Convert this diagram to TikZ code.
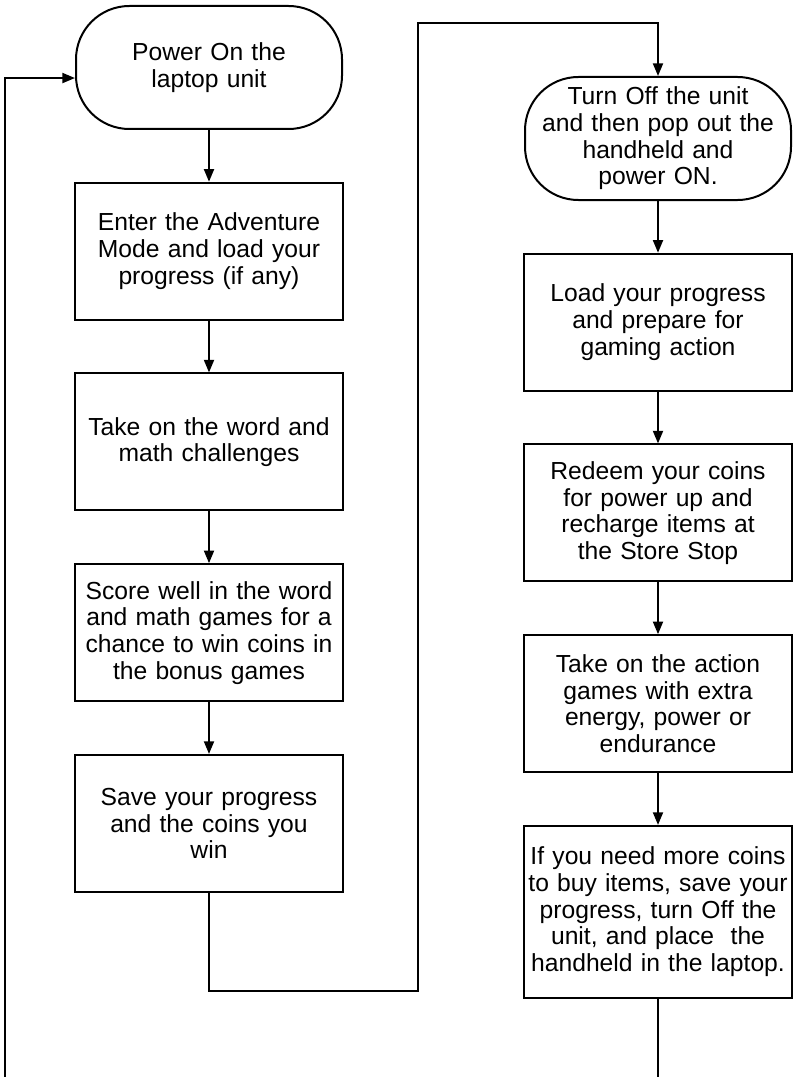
\documentclass[tikz,border=0pt]{standalone}
\usepackage{fontspec}
\setmainfont{Liberation Sans}
\usetikzlibrary{positioning,arrows.meta}
\tikzset{
  box/.style={draw=black,line width=1.5pt,fill=white,align=center,minimum width=201pt,minimum height=102.75pt,text width=195pt,inner sep=2pt,font=\fontsize{18.5}{20}\selectfont},
  terminal/.style={box,rounded corners=40pt,minimum width=199.5pt,minimum height=92.25pt},
  arrow/.style={-{Triangle[length=9.5pt,width=7.5pt]},draw=black,line width=1.5pt},
  line/.style={draw=black,line width=1.5pt}
}

\begin{document}
\begin{tikzpicture}[x=0.75pt,y=0.75pt,node distance=38.8pt]
  \useasboundingbox (0,0) rectangle (794,-1077);
  % laptop column
  \node[terminal] (start) at (209,-67.5) {Power On the\\laptop unit};
  \node[box,below=of start] (adventure) {Enter the Adventure\\Mode and load your\\progress (if any)};
  \node[box,below=of adventure] (challenges) {Take on the word and\\math challenges};
  \node[box,below=of challenges] (score) {Score well in the word\\and math games for a\\chance to win coins in\\the bonus games};
  \node[box,below=of score] (savegame) {Save your progress\\and the coins you\\win};
  \draw[arrow] (start) -- (adventure);
  \draw[arrow] (adventure) -- (challenges);
  \draw[arrow] (challenges) -- (score);
  \draw[arrow] (score) -- (savegame);
  % handheld column
  \node[terminal] (swap) at (658,-138.5) {Turn Off the unit\\and then pop out the\\handheld and\\power ON.};
  \node[box,below=of swap] (loadgame) {Load your progress\\and prepare for\\gaming action};
  \node[box,below=of loadgame] (redeem) {Redeem your coins\\for power up and\\recharge items at\\the Store Stop};
  \node[box,below=of redeem] (action) {Take on the action\\games with extra\\energy, power or\\endurance};
  \node[box,below=of action,minimum height=129pt] (morecoins) {If you need more coins\\to buy items, save your\\progress, turn Off the\\unit, and place~ the\\handheld in the laptop.};
  \draw[arrow] (swap) -- (loadgame);
  \draw[arrow] (loadgame) -- (redeem);
  \draw[arrow] (redeem) -- (action);
  \draw[arrow] (action) -- (morecoins);
  % loops
  \coordinate (lowturn) at (418,-991);
  \coordinate (highturn) at (418,-23);
  \coordinate (loopend) at (5,-1077);
  \draw[arrow] (savegame.south) |- (lowturn) -- (highturn) -| (swap.north);
  \draw[line] (morecoins.south) -- (morecoins.south |- loopend);
  \draw[arrow] (loopend) |- ([yshift=-7.9pt]start.west);
\end{tikzpicture}
\end{document}
